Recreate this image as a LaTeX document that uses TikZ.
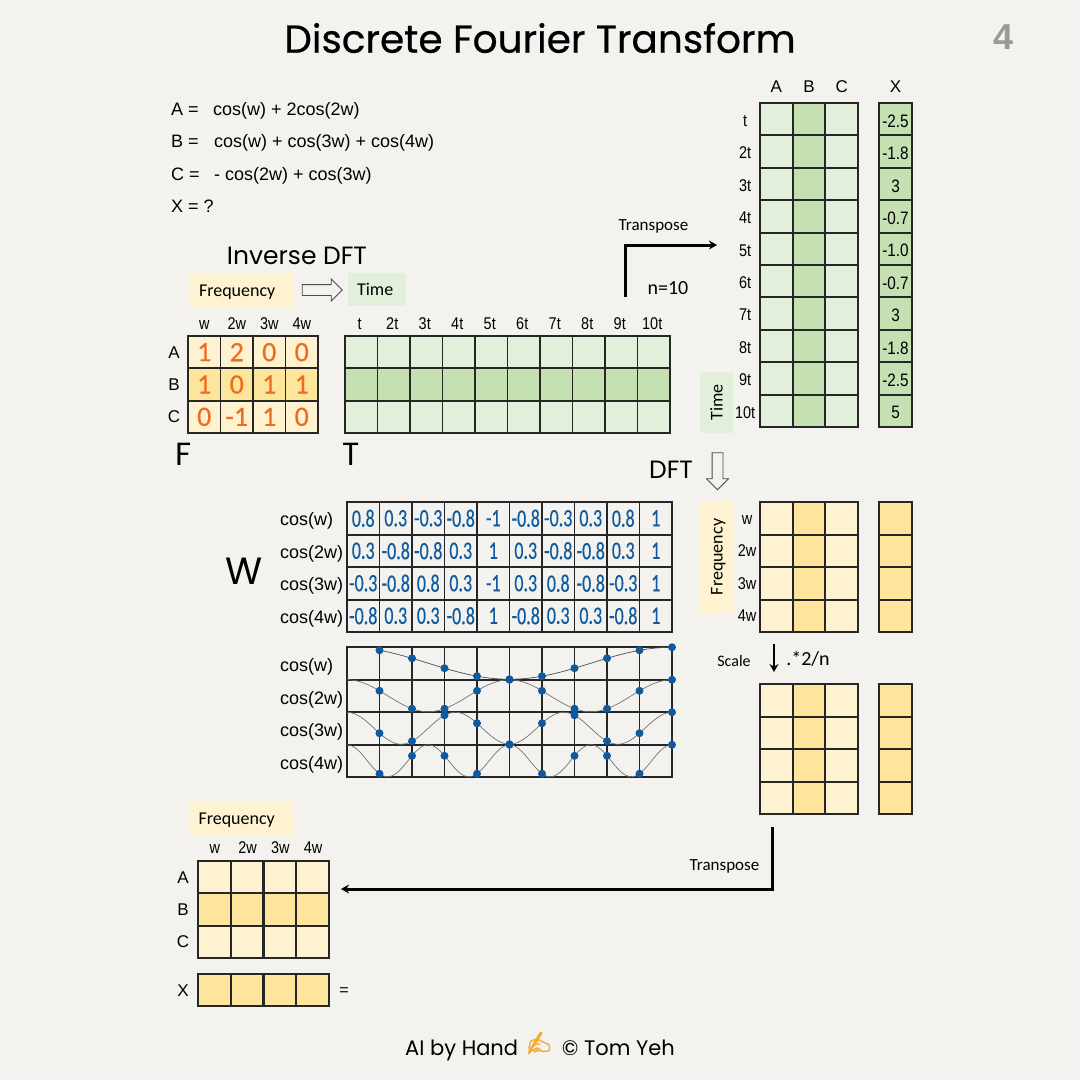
\documentclass[tikz,border=0pt]{standalone}
\usepackage{fontspec}
\usetikzlibrary{arrows.meta, positioning, shapes.arrows}
\setmainfont{Liberation Sans}
\newfontfamily\narrowfont[FakeStretch=0.85]{Liberation Sans}
\newfontfamily\calfont{Carlito}
\newfontfamily\handfont{Poppins}
\newfontfamily\titlefont[FakeBold=0.6]{Poppins}
\newfontfamily\digitfont[FakeStretch=0.72,FakeBold=0.4]{Carlito}
\newfontfamily\orangefont[FakeBold=0.4]{Carlito}
\newfontfamily\emojifont[FakeBold=2]{Noto Emoji}
\newcommand{\fsize}[1]{\fontsize{#1}{#1}\selectfont}
\definecolor{paper}{HTML}{F4F2EE}
\definecolor{yel1}{HTML}{FEF2D0}
\definecolor{yel2}{HTML}{FDE59B}
\definecolor{yel3}{HTML}{FEF2D0}
\definecolor{grn1}{HTML}{E2EFDA}
\definecolor{grn2}{HTML}{C5E0B3}
\definecolor{grn3}{HTML}{E2EFDA}
\definecolor{inkorange}{HTML}{EE6C1E}
\definecolor{inkblue}{HTML}{0F5A9E}
\definecolor{inkgold}{HTML}{F3AE2E}

\begin{document}
\begin{tikzpicture}[
  x=1pt, y=-1pt, >=Stealth,
  cell/.style={draw=black!85, line width=1.9pt, minimum width=32.5pt, minimum height=32.4pt, inner sep=0pt, outer sep=0pt},
  lab/.style={font=\narrowfont\fsize{17}, text height=11.5pt, text depth=0pt, inner sep=0pt},
  letterlab/.style={font=\fsize{17}, text height=12pt, text depth=0pt, inner sep=0pt},
  eqn/.style={font=\fsize{18}, anchor=west, text height=13pt, text depth=0pt, inner sep=0pt},
  note/.style={font=\calfont\fsize{17}, text height=13pt, text depth=1pt, inner sep=0pt},
  big/.style={font=\handfont\fsize{25}, inner sep=0pt},
  tag/.style={font=\calfont\fsize{18}, text height=13pt, text depth=1pt, inner sep=0pt, minimum height=33pt},
  hollow/.style={draw=black!70, fill=paper, line width=.8pt, single arrow, single arrow head extend=5.5pt, inner sep=5pt},
  bentarrow/.style={line width=3pt, -{Stealth[length=8pt,width=9pt]}},
  wave/.style={draw=black!55, line width=.7pt},
  dot/.style={circle, fill=inkblue, minimum size=8pt, inner sep=0pt}
]
\fill[paper] (0,0) rectangle (1080,1080);
\useasboundingbox (0,0) rectangle (1080,1080);

\node[font=\titlefont\fsize{39}, inner sep=0pt] (title) at (540,38) {Discrete Fourier Transform};
\node[font=\bfseries\fsize{36}, text=black!40, inner sep=0pt] (page) at (1004,37) {4};

% equations
\node[eqn] (eqa) at (171,109) {A =};
\node[eqn] (cosa) at (213,109) {cos(w) + 2cos(2w)};
\node[eqn] (eqb) at (171,141) {B =};
\node[eqn] (cosb) at (214,141) {cos(w) + cos(3w) + cos(4w)};
\node[eqn] (eqc) at (171,174) {C =};
\node[eqn] (cosc) at (214,174) {- cos(2w) + cos(3w)};
\node[eqn] (eqx) at (171,206) {X = ?};

% inverse DFT header
\node[big] (idft) at (297,256) {Inverse DFT};
\node[tag, fill=yel1, inner xsep=10pt, text width=84pt] (ffreq) at (241,290.5) {Frequency};
\node[hollow, minimum height=40pt] (iarrow) at (319.5,290) {};
\node[tag, fill=grn1, inner xsep=9pt, text width=40pt] (ftime) at (377,289) {Time};

% F
\foreach \row [count=\r] in {{1,2,0,0},{1,0,1,1},{0,-1,1,0}}
  \foreach \val [count=\c] in \row
    \node[cell, fill=yel\r, text=inkorange, font=\orangefont\fsize{28}] (F-\r-\c) at ({188+32.5*(\c-.5)},{336+32.33*(\r-.5)}) {\val};
\foreach \name [count=\c] in {w,2w,3w,4w}
  \node[lab] (Fc-\c) at ([yshift=12pt]F-1-\c.north) {\name};
\foreach \name [count=\r] in {A,B,C}
  \node[letterlab] (Fr-\r) at ([xshift=-14pt]F-\r-1.west) {\name};
\node[big, font=\handfont\fsize{32}] (Flab) at (184,454) {F};

% T
\foreach \r in {1,2,3}
  \foreach \c in {1,...,10}
    \node[cell, fill=grn\r] (T-\r-\c) at ({345+32.5*(\c-.5)},{336+32.33*(\r-.5)}) {};
\foreach \name [count=\c] in {t,2t,3t,4t,5t,6t,7t,8t,9t,10t}
  \node[lab] (Tc-\c) at ([xshift=-1.5pt,yshift=12pt]T-1-\c.north) {\name};
\node[big, font=\handfont\fsize{32}] (Tlab) at (351,454) {T};

% transposed T
\foreach \r in {1,...,10}
  \foreach \c in {1,2,3}
    \node[cell, fill=grn\c] (TT-\r-\c) at ({760+32.67*(\c-.5)},{103+32.4*(\r-.5)}) {};
\foreach \name [count=\c] in {A,B,C}
  \node[letterlab] (TTc-\c) at ([yshift=17pt]TT-1-\c.north) {\name};
\foreach \name [count=\r] in {t,2t,3t,4t,5t,6t,7t,8t,9t,10t}
  \node[lab] (TTr-\r) at ([xshift=-15pt,yshift=-1.5pt]TT-\r-1.west) {\name};
\foreach \val [count=\r] in {-2.5,-1.8,3,-0.7,-1.0,-0.7,3,-1.8,-2.5,5}
  \node[cell, fill=grn2, font=\narrowfont\fsize{18}, text height=16pt, text depth=0pt] (X-\r) at (895.5,{103+32.4*(\r-.5)}) {\val};
\node[letterlab] (Xc) at ([yshift=17pt]X-1.north) {X};
\node[tag, fill=grn1, rotate=90, minimum width=61pt] (vtime) at (716.5,402.5) {Time};

\coordinate (tr-start) at (625,297);
\coordinate (tr-end) at (717,245);
\draw[bentarrow] (tr-start) |- (tr-end);
\node[note] (trans) at (653.5,224) {Transpose};
\node[note, font=\calfont\fsize{20}] (nval) at (668,288) {n=10};

% DFT
\node[big] (dft) at (671,470) {DFT};
\node[hollow, minimum height=37pt, rotate=-90] (darrow) at (717.5,468.5) {};

% W values
\foreach \row [count=\r] in {{0.8,0.3,-0.3,-0.8,-1,-0.8,-0.3,0.3,0.8,1},{0.3,-0.8,-0.8,0.3,1,0.3,-0.8,-0.8,0.3,1},{-0.3,-0.8,0.8,0.3,-1,0.3,0.8,-0.8,-0.3,1},{-0.8,0.3,0.3,-0.8,1,-0.8,0.3,0.3,-0.8,1}}
  \foreach \val [count=\c] in \row
    \node[cell, text=inkblue, font=\digitfont\fsize{25}] (W-\r-\c) at ({347+32.5*(\c-.5)},{502+32.5*(\r-.5)}) {\val};
\foreach \name [count=\r] in {cos(w),cos(2w),cos(3w),cos(4w)}
  \node[eqn] (Wr-\r) at ({280},{519+32.5*(\r-1)}) {\name};
\node[big, font=\handfont\fsize{38}] (Wlab) at (244,571) {W};

% cosine plots
\foreach \r in {1,...,4}
  \foreach \c in {1,...,10}
    \node[cell] (P-\r-\c) at ({347+32.5*(\c-.5)},{647+32.5*(\r-.5)}) {};
\draw[wave, draw=black!70] plot[domain=1:10, samples=60] ({347+32.5*\x},{663.25-16*cos(36*\x)});
\foreach \k in {2,3,4}
  \draw[wave] plot[domain=0:10, samples=120] ({347+32.5*\x},{647+32.5*(\k-1)+16.25-16*cos(36*\k*\x)});
\foreach \k in {1,...,4}
  \foreach \t in {1,...,10}
    \node[dot] (dot-\k-\t) at ({347+32.5*\t},{647+32.5*(\k-1)+16.25-16*cos(36*\k*\t)}) {};
\foreach \name [count=\r] in {cos(w),cos(2w),cos(3w),cos(4w)}
  \node[eqn] (Pr-\r) at ({280},{665+32.5*(\r-1)}) {\name};

% frequency matrices
\foreach \r in {1,...,4}
  \foreach \c in {1,2,3} {
    \node[cell, fill=yel\c] (G-\r-\c) at ({760+32.67*(\c-.5)},{502+32.5*(\r-.5)}) {};
    \node[cell, fill=yel\c] (S-\r-\c) at ({760+32.67*(\c-.5)},{684+32.5*(\r-.5)}) {};
  }
\foreach \r in {1,...,4} {
  \node[cell, fill=yel2] (GX-\r) at (895.5,{502+32.5*(\r-.5)}) {};
  \node[cell, fill=yel2] (SX-\r) at (895.5,{684+32.5*(\r-.5)}) {};
}
\foreach \name [count=\r] in {w,2w,3w,4w}
  \node[lab] (Gr-\r) at ([xshift=-13pt]G-\r-1.west) {\name};
\node[tag, fill=yel1, rotate=90, minimum width=112pt] (vfreq) at (716.5,557) {Frequency};

\coordinate (sc-start) at (774,644);
\coordinate (sc-end) at (774,672);
\draw[bentarrow, line width=2.5pt] (sc-start) -- (sc-end);
\node[note, font=\calfont\fsize{16}] (scale) at (734,660) {Scale};
\node[note, font=\calfont\fsize{20}] (scval) at (808,659) {.*2/n};

% bottom result
\coordinate (bk-start) at (772,827);
\coordinate (bk-end) at (341,889);
\draw[bentarrow] (bk-start) |- (bk-end);
\node[note] (trans2) at (724.5,864) {Transpose};
\node[tag, fill=yel1, inner xsep=9pt, text width=85pt] (bfreq) at (241,818.5) {Frequency};
\foreach \r in {1,2,3}
  \foreach \c in {1,...,4}
    \node[cell, fill=yel\r] (R-\r-\c) at ({198+32.75*(\c-.5)},{861+32.33*(\r-.5)}) {};
\foreach \name [count=\c] in {w,2w,3w,4w}
  \node[lab] (Rc-\c) at ([xshift=.5pt,yshift=13pt]R-1-\c.north) {\name};
\foreach \name [count=\r] in {A,B,C}
  \node[letterlab] (Rr-\r) at ([xshift=-15pt]R-\r-1.west) {\name};
\foreach \c in {1,...,4}
  \node[cell, fill=yel2] (RX-\c) at ({198+32.75*(\c-.5)},990) {};
\node[letterlab] (RXl) at ([xshift=-15pt]RX-1.west) {X};
\node[note, font=\fsize{16}] (eqs) at (344,989) {=};

\node[font=\handfont\fsize{21}, inner sep=0pt, anchor=base west] (foot1) at (405,1055) {AI by Hand};
\node[font=\emojifont\fsize{22}, text=inkgold, inner sep=0pt] (pen) at (539,1043) {✍};
\node[font=\handfont\fsize{21}, inner sep=0pt, anchor=base east] (foot2) at (675,1055) {© Tom Yeh};
\end{tikzpicture}
\end{document}
